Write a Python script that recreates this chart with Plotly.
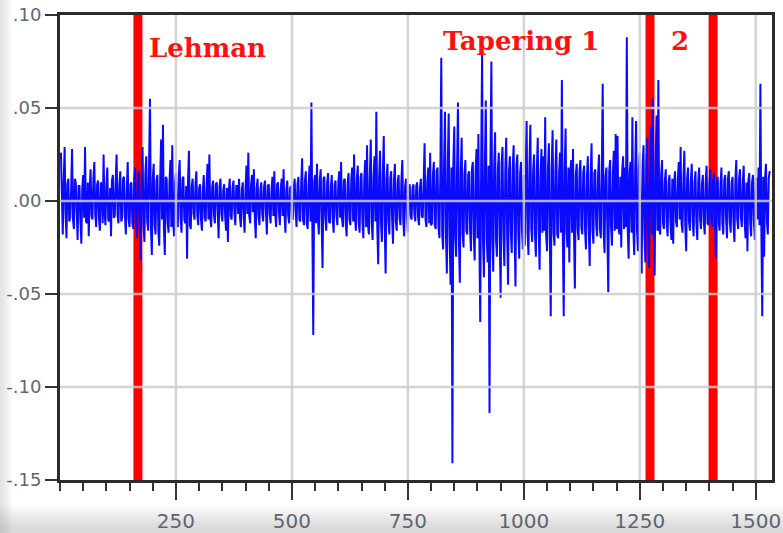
import plotly.graph_objects as go

# Daily returns, every 2nd trading day (day index starts at 2)
returns = [
    .026, -.008, -.018, .011, .029, -.007, -.020, .009, .012, -.011, -.009, .006, .028, -.010, -.015, .012, .010, -.006, -.021, .008,
    .008, -.010, -.023, .007, .014, -.009, .029, -.011, -.012, .010, -.019, .006, .017, -.008, -.010, .012, .021, -.007, -.014, .009,
    .011, -.009, -.016, .010, .009, -.012, .025, -.006, -.013, .008, .018, -.010, -.011, .007, -.019, .011, .014, -.009, -.008, .010,
    .025, -.007, -.012, .009, .016, -.011, -.009, .012, .013, -.008, -.018, .006, .021, -.010, -.014, .009, .010, -.012, -.015, .011,
    .018, -.012, -.020, .014, .016, -.015, -.032, .010, .029, -.013, -.022, .015, .024, -.011, -.016, .019, .055, -.014, -.029, .012,
    .020, -.013, -.018, .011, .014, -.016, -.024, .012, .033, -.010, .041, -.015, -.029, .013, .012, -.011, -.017, .010, .022, -.014,
    .030, -.012, -.019, .010, .015, -.011, -.014, .013, .022, -.009, -.017, .012, .013, -.010, -.012, .008, -.031, .011, .027, -.013,
    -.015, .008, .012, -.007, -.010, .009, .016, -.008, -.013, .007, .009, -.010, -.016, .006, .014, -.009, -.011, .008, .020, -.010,
    .025, -.009, -.014, .007, .011, -.008, -.012, .009, .010, -.006, -.020, .008, .012, -.007, -.011, .006, .009, -.008, -.016, .007,
    -.022, .006, .012, -.008, -.010, .007, .011, -.006, -.013, .008, .008, -.007, .012, -.009, -.014, .006, .010, -.008, -.017, .007,
    .019, -.007, .026, -.008, -.012, .009, .014, -.006, .017, -.009, -.020, .007, .012, -.008, -.013, .006, .010, -.007, -.011, .008,
    .011, -.006, -.018, .008, .009, -.007, -.012, .006, .013, -.008, .016, -.007, -.014, .009, .010, -.006, -.013, .007, .012, -.008,
    .017, -.007, -.017, .006, .011, -.008, -.012, .007, .008, -.009, -.010, .008, .012, -.006, -.014, .009, .013, -.010, -.011, .009,
    .023, -.010, -.013, .011, .016, -.012, -.015, .009, .019, -.011, .053, -.013, -.072, .010, .014, -.012, .020, -.009, -.018, .011,
    .017, -.010, -.036, .012, .013, -.009, -.016, .010, .015, -.011, -.012, .008, .014, -.010, -.017, .009, .011, -.008, -.013, .010,
    .016, -.009, .021, -.010, -.014, .011, .012, -.012, -.019, .009, .015, -.010, -.013, .012, .018, -.011, .025, -.009, -.016, .012,
    .019, -.012, -.017, .013, .015, -.011, -.020, .012, .022, -.014, .030, -.013, -.018, .014, .033, -.012, -.021, .013, .024, -.011,
    .048, -.014, -.034, .013, .027, -.012, -.022, .015, .035, -.013, -.039, .012, .020, -.011, -.018, .012, .016, -.010, -.023, .011,
    .020, -.011, -.016, .010, .014, -.009, -.013, .011, .022, -.010, -.019, .008, .012, -.009, -.017, .007, .009, -.008, -.010, .007,
    .009, -.007, -.011, .008, .010, -.009, -.013, .007, .012, -.008, -.009, .010, .031, -.010, -.014, .011, .018, -.012, .026, -.013,
    -.012, .014, .021, -.013, -.015, .016, .018, -.014, -.020, .015, .077, -.018, -.026, .020, .048, -.017, -.039, .019, .047, -.022,
    -.045, .018, -.141, .020, .040, -.019, -.030, .017, .053, -.021, -.044, .016, .034, -.018, -.025, .015, .022, -.016, -.018, .014,
    .016, -.015, -.027, .017, .021, -.018, -.032, .016, .028, -.020, .036, -.019, -.065, .021, .079, -.022, -.041, .020, .054, -.021,
    -.033, .019, -.114, .022, .075, -.020, -.038, .018, .037, -.021, -.030, .017, .026, -.019, -.052, .020, .029, -.018, -.035, .017,
    .034, -.018, -.045, .016, .024, -.017, -.028, .018, .030, -.016, -.046, .019, .025, -.017, -.031, .015, .021, -.016, -.026, .014,
    -.024, .016, .043, -.017, -.029, .018, .041, -.015, -.022, .016, .025, -.018, -.030, .017, .034, -.016, -.037, .015, .028, -.017,
    .024, -.016, .045, -.018, -.027, .017, .031, -.019, -.062, .018, .038, -.017, -.024, .016, .033, -.018, -.020, .015, .026, -.017,
    .065, -.018, -.062, .017, .039, -.016, -.025, .018, -.033, .015, .022, -.017, .028, -.016, -.047, .014, .020, -.015, -.021, .016,
    .022, -.014, -.018, .015, .019, -.016, -.026, .013, .024, -.015, -.035, .014, .031, -.016, -.023, .015, .017, -.013, -.019, .014,
    .025, -.015, -.020, .014, .063, -.016, -.028, .013, .018, -.015, -.049, .016, .022, -.014, -.024, .015, .027, -.016, .036, -.015,
    .035, -.014, -.018, .013, -.025, .016, .024, -.015, .018, -.014, .088, -.016, -.031, .015, .021, -.017, .045, -.015, -.029, .016,
    .043, -.016, -.027, .018, .026, -.017, -.039, .019, .030, -.018, -.033, .020, .034, -.019, -.036, .021, .040, -.018, .055, -.017,
    -.040, .020, .046, -.016, .065, -.015, -.018, .014, .022, -.012, -.015, .011, .017, -.012, -.019, .010, .014, -.011, -.021, .012,
    -.023, .010, .016, -.011, -.014, .012, .021, -.010, .029, -.012, -.017, .011, .027, -.013, -.027, .012, .018, -.011, -.016, .010,
    .020, -.011, -.019, .010, .016, -.012, -.021, .011, .018, -.010, -.015, .009, .014, -.011, -.018, .010, .019, -.012, -.013, .009,
    .017, -.010, -.014, .011, .015, -.012, -.031, .010, .013, -.011, -.016, .009, .018, -.012, -.018, .011, .014, -.010, -.020, .012,
    .016, -.011, -.017, .010, .013, -.012, -.022, .011, .022, -.010, -.015, .012, .017, -.009, -.014, .010, .019, -.011, -.020, .010,
    -.027, .011, .015, -.012, -.019, .010, .014, -.011, -.021, .012, .012, -.010, .018, -.013, .063, -.015, -.062, .013, -.030, .012,
    .020, -.011, -.018, .012, .016,
]
days = [2 + 2 * i for i in range(len(returns))]

# Event markers
event_days = [168, 1272, 1408]
event_labels = ["Lehman", "Tapering 1", "2"]
label_days = [188, 822, 1337]
label_values = [0.082, 0.086, 0.086]

y_ticks = [0.10, 0.05, 0.00, -0.05, -0.10, -0.15]
y_ticktext = [".10", ".05", ".00", "-.05", "-.10", "-.15"]
x_ticks = [250, 500, 750, 1000, 1250, 1500]

fig = go.Figure()
fig.add_trace(go.Scatter(
    x=days, y=returns, mode="lines",
    line=dict(color="rgb(10,10,255)", width=2),
    showlegend=False, hoverinfo="skip",
))

shapes = []
for d in event_days:
    shapes.append(dict(type="line", xref="x", yref="paper", x0=d, x1=d, y0=0, y1=1,
                       line=dict(color="#ff0000", width=9), layer="below"))
grid = dict(color="rgba(205,205,205,0.85)", width=2.5)
for v in y_ticks[1:-1]:
    shapes.append(dict(type="line", xref="paper", yref="y", x0=0, x1=1, y0=v, y1=v,
                       line=grid, layer="above"))
for d in x_ticks:
    shapes.append(dict(type="line", xref="x", yref="paper", x0=d, x1=d, y0=0, y1=1,
                       line=grid, layer="above"))

# soft shading along the left and bottom edges of the image
W, H = 783, 533
pl, pr, pt, pb = 60, 11, 15, 53
pw, ph = W - pl - pr, H - pt - pb
def px_x(p):
    return (p - pl) / pw
def px_y(p):
    return (H - pb - p) / ph
for i in range(6):
    shapes.append(dict(type="rect", xref="paper", yref="paper",
                       x0=px_x(0), x1=px_x(12 - 2 * i), y0=px_y(H), y1=px_y(0),
                       fillcolor="rgba(150,150,150,0.05)", line=dict(width=0), layer="below"))
for i in range(8):
    shapes.append(dict(type="rect", xref="paper", yref="paper",
                       x0=px_x(0), x1=px_x(W), y0=px_y(H), y1=px_y(506 + 3 * i),
                       fillcolor="rgba(150,150,150,0.045)", line=dict(width=0), layer="below"))

annotations = []
for txt, d, v in zip(event_labels, label_days, label_values):
    annotations.append(dict(x=d, y=v, xref="x", yref="y", text=txt, showarrow=False,
                            xanchor="left", yanchor="middle",
                            font=dict(family="DejaVu Serif", size=26, color="#ff1010",
                                      weight="bold")))
annotations[2]["xanchor"] = "center"

fig.update_layout(
    width=W, height=H,
    margin=dict(l=pl, r=pr, t=pt, b=pb, autoexpand=False),
    paper_bgcolor="white", plot_bgcolor="white",
    shapes=shapes, annotations=annotations,
    xaxis=dict(
        range=[0, 1535], tickvals=x_ticks, ticks="outside", ticklen=17, tickwidth=2,
        tickcolor="#333", showgrid=False, zeroline=False, automargin=False,
        showline=True, linecolor="#2b2b2b", linewidth=3, mirror=True,
        tickfont=dict(family="DejaVu Sans", size=20, color="#5f6670"),
        ticklabelstandoff=4,
        minor=dict(dtick=50, tick0=0, ticks="outside", ticklen=8, tickwidth=2,
                   tickcolor="#333", showgrid=False),
    ),
    yaxis=dict(
        range=[-0.15, 0.10], tickvals=y_ticks, ticktext=y_ticktext,
        ticks="outside", ticklen=12, tickwidth=2, tickcolor="#333",
        showgrid=False, zeroline=False, automargin=False,
        showline=True, linecolor="#2b2b2b", linewidth=3, mirror=True,
        tickfont=dict(family="DejaVu Sans", size=18, color="#5f6670"),
        ticklabelstandoff=0,
    ),
)

fig.write_html("out.html")
